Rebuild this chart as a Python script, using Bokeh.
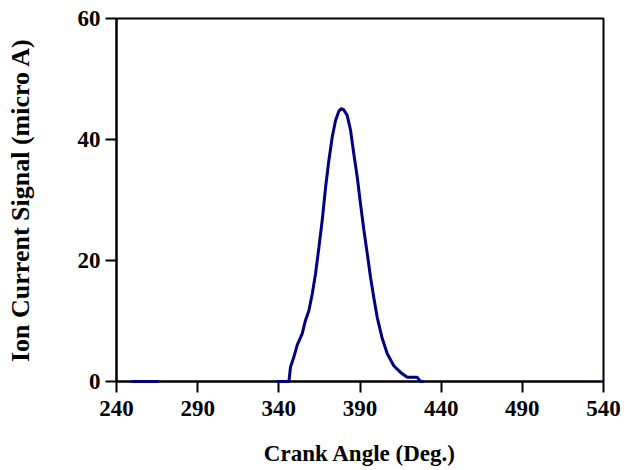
from bokeh.plotting import figure
from bokeh.models import FixedTicker, Range1d
from bokeh.embed import file_html
from bokeh.resources import INLINE
import numpy as np

# Data
crank_angle = [249, 266, np.nan,
               338.6, 346.2, 347.2, 349.2, 351.3, 354.4, 356.4, 358.5, 360.6, 362.6,
               364.7, 366.7, 368.8, 370.8, 372.9, 374.9, 377.0, 378.5, 380.0, 382.1,
               384.2, 386.2, 388.3, 390.3, 392.4, 394.5, 396.5, 398.5, 400.6, 403.7,
               406.8, 410.8, 415.0, 419.1, 425.2, 427.3, 429.3, np.nan,
               539.2, 540]
ion_current = [0, 0, np.nan,
               0, 0, 2.4, 4.0, 6.0, 7.9, 10.1, 11.7, 14.5, 17.8,
               22.2, 26.6, 32.1, 36.5, 40.4, 43.1, 44.7, 45.1, 44.9, 44.0,
               41.5, 37.6, 33.8, 29.4, 25.0, 21.1, 17.2, 13.9, 10.6, 7.1,
               4.6, 2.6, 1.5, 0.7, 0.7, 0, 0, np.nan,
               0, 0]
x_ticks = [240, 290, 340, 390, 440, 490, 540]
y_ticks = [0, 20, 40, 60]

FONT = "Liberation Serif"

p = figure(width=627, height=470, output_backend="svg", toolbar_location=None,
           x_range=Range1d(240, 540), y_range=Range1d(0, 60),
           min_border_left=116, min_border_top=18, min_border_right=24, min_border_bottom=89)

p.line(crank_angle, ion_current, line_color="#000080", line_width=3, level="overlay")

p.xgrid.visible = False
p.ygrid.visible = False
p.outline_line_color = "black"
p.outline_line_width = 2
p.outline_line_alpha = 1

for ax in (p.xaxis[0], p.yaxis[0]):
    ax.axis_line_width = 2
    ax.axis_line_color = "black"
    ax.major_tick_line_width = 2
    ax.major_tick_line_color = "black"
    ax.major_tick_in = 0
    ax.major_tick_out = 11
    ax.minor_tick_line_color = None
    ax.major_label_text_font = FONT
    ax.major_label_text_font_style = "bold"
    ax.major_label_text_font_size = "23px"
    ax.major_label_text_color = "black"
    ax.axis_label_text_font = FONT
    ax.axis_label_text_font_style = "bold"
    ax.axis_label_text_font_size = "23px"
    ax.axis_label_text_color = "black"

p.yaxis[0].axis_label_text_font_size = "26px"
p.xaxis[0].ticker = FixedTicker(ticks=x_ticks)
p.yaxis[0].ticker = FixedTicker(ticks=y_ticks)
p.xaxis[0].axis_label = "Crank Angle (Deg.)"
p.yaxis[0].axis_label = "Ion Current Signal (micro A)"
p.xaxis[0].major_label_standoff = 8
p.yaxis[0].major_label_standoff = 5
p.xaxis[0].axis_label_standoff = 22
p.yaxis[0].axis_label_standoff = 40

open("out.html", "w").write(file_html(p, INLINE))
